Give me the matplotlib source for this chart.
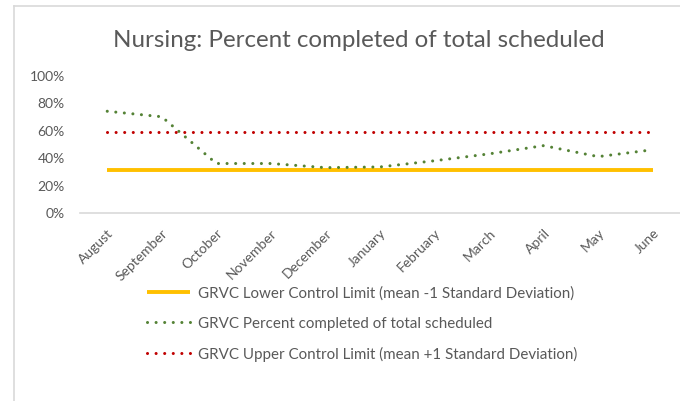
import matplotlib.pyplot as plt
from matplotlib.lines import Line2D
from matplotlib.ticker import PercentFormatter

months = ['August', 'September', 'October', 'November', 'December', 'January',
          'February', 'March', 'April', 'May', 'June']
pct_completed = [0.74, 0.70, 0.36, 0.36, 0.33, 0.335, 0.38, 0.43, 0.49, 0.41, 0.46]
lower_limit = [0.315] * 11
upper_limit = [0.59] * 11

label_lower = 'GRVC Lower Control Limit (mean -1 Standard Deviation)'
label_pct = 'GRVC Percent completed of total scheduled'
label_upper = 'GRVC Upper Control Limit (mean +1 Standard Deviation)'

txt = '#595959'
plt.rcParams['font.family'] = ['Lato', 'DejaVu Sans']


def main():
    fig = plt.figure(figsize=(6.8, 4.01), dpi=100)
    ax = fig.add_axes([0.1176, 0.4688, 0.8824, 0.3429])

    x = range(len(months))
    dot = (0, (0.01, 2.8))
    l1, = ax.plot(x, lower_limit, color='#FFC000', lw=2.8, solid_capstyle='butt')
    l2, = ax.plot(x, pct_completed, color='#548235', lw=2.2, linestyle=dot,
                  dash_capstyle='round')
    l3, = ax.plot(x, upper_limit, color='#C00000', lw=2.2, linestyle=dot,
                  dash_capstyle='round')

    ax.set_xlim(-0.5, len(months) - 0.5)
    ax.set_ylim(0, 1)
    ax.set_yticks([0, 0.2, 0.4, 0.6, 0.8, 1.0])
    ax.yaxis.set_major_formatter(PercentFormatter(1.0, decimals=0))
    ax.set_xticks(list(x))
    ax.set_xticklabels(months, rotation=45, ha='right', rotation_mode='anchor')
    ax.tick_params(axis='both', length=0, labelsize=10, labelcolor=txt)
    ax.tick_params(axis='x', pad=10)
    ax.tick_params(axis='y', pad=11)
    for s in ['top', 'right', 'left']:
        ax.spines[s].set_visible(False)
    ax.spines['bottom'].set_color('#D9D9D9')
    ax.spines['bottom'].set_linewidth(1.2)

    fig.text(0.527, 0.9, 'Nursing: Percent completed of total scheduled',
             ha='center', va='center', fontsize=17.4, color=txt)

    fig.legend([l1, l2, l3], [label_lower, label_pct, label_upper],
               loc='upper left', bbox_to_anchor=(0.196, 0.32),
               frameon=False, fontsize=10.9, handlelength=2.85,
               handletextpad=0.5, labelspacing=1.05, labelcolor=txt)

    # chart area border
    fig.add_artist(Line2D([14 / 680, 14 / 680], [0, 1 - 6 / 401],
                          color='#D9D9D9', lw=1.2, transform=fig.transFigure))
    fig.add_artist(Line2D([14 / 680, 1], [1 - 6 / 401, 1 - 6 / 401],
                          color='#D9D9D9', lw=1.2, transform=fig.transFigure))

    fig.savefig('out.png', dpi=100, facecolor='white')


if __name__ == "__main__":
    main()
